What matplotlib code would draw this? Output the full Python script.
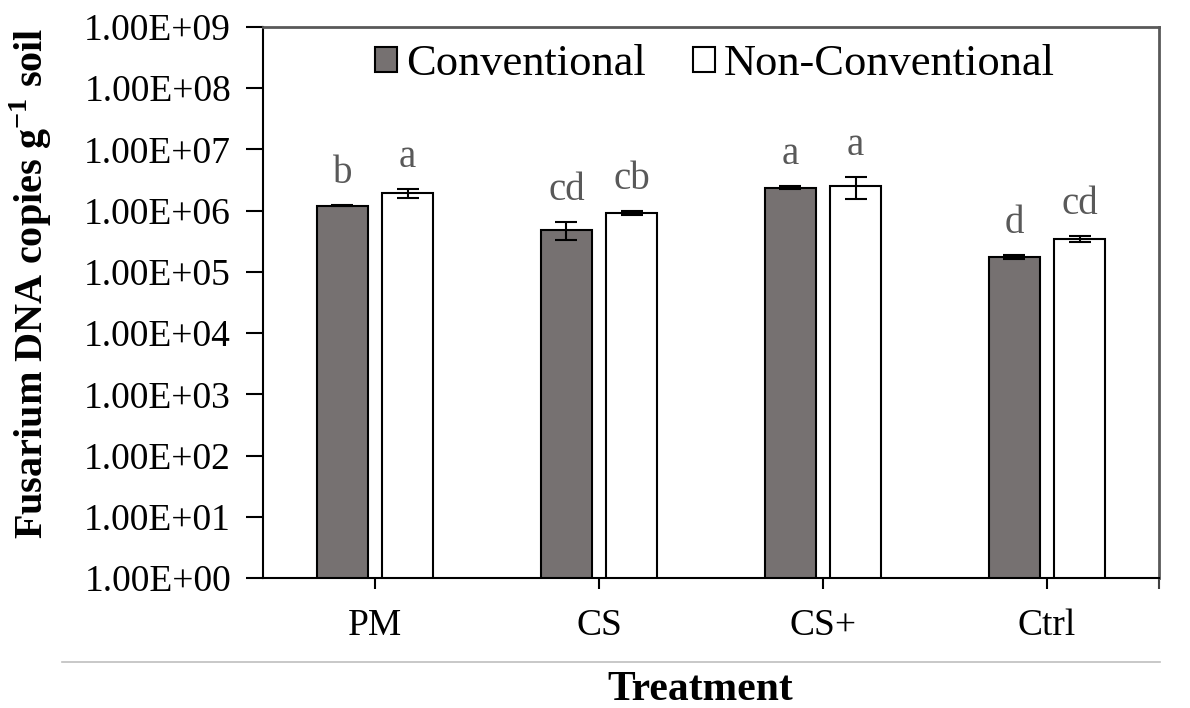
import matplotlib
matplotlib.use("Agg")
import matplotlib.pyplot as plt
import numpy as np
from matplotlib.patches import Patch
from matplotlib.lines import Line2D
import matplotlib.ticker as mticker

categories = ["PM", "CS", "CS+", "Ctrl"]
conv_vals = [1.21e6, 4.9e5, 2.38e6, 1.75e5]
conv_err = [0.03e6, 1.6e5, 0.15e6, 0.14e5]
nonconv_vals = [1.93e6, 9.2e5, 2.57e6, 3.46e5]
nonconv_err = [0.30e6, 0.07e6, 1.0e6, 0.38e5]
conv_letters = ["b", "cd", "a", "d"]
nonconv_letters = ["a", "cb", "a", "cd"]
ytick_vals = [10.0**k for k in range(0, 10)]
ytick_labels = ["1.00E+%02d" % k for k in range(0, 10)]

plt.rcParams['font.family'] = ['Liberation Serif', 'DejaVu Serif']
plt.rcParams['mathtext.fontset'] = 'custom'
plt.rcParams['mathtext.rm'] = 'Liberation Serif'
plt.rcParams['mathtext.bf'] = 'Liberation Serif:bold'

fig = plt.figure(figsize=(11.9, 7.08), dpi=100)
ax = fig.add_axes([263/1190, 1-578/708, (1159-263)/1190, (578-27)/708])

x = np.arange(len(categories))
w = 0.228
gap = 0.0625
off = (w + gap) / 2

ax.bar(x - off, conv_vals, w, color="#767171", edgecolor="black", linewidth=1.5, zorder=2)
ax.bar(x + off, nonconv_vals, w, color="white", edgecolor="black", linewidth=1.5, zorder=2)
ax.errorbar(x - off, conv_vals, yerr=conv_err, fmt="none", ecolor="black",
            elinewidth=1.5, capsize=8, capthick=1.5, zorder=3)
ax.errorbar(x + off, nonconv_vals, yerr=nonconv_err, fmt="none", ecolor="black",
            elinewidth=1.5, capsize=8, capthick=1.5, zorder=3)

for xi, v, e, t in zip(x - off, conv_vals, conv_err, conv_letters):
    ax.annotate(t, (xi, v + e), xytext=(0, 16), textcoords="offset points",
                ha="center", va="baseline", fontsize=28, color="#595959")
for xi, v, e, t in zip(x + off, nonconv_vals, nonconv_err, nonconv_letters):
    ax.annotate(t, (xi, v + e), xytext=(0, 16), textcoords="offset points",
                ha="center", va="baseline", fontsize=28, color="#595959")

ax.set_yscale("log")
ax.set_ylim(1, 1e9)
ax.set_xlim(-0.5, len(categories) - 0.5)
ax.set_yticks(ytick_vals)
ax.set_yticklabels(ytick_labels)
ax.yaxis.set_minor_locator(mticker.NullLocator())
ax.set_xticks(x)
ax.set_xticklabels(categories)
ax.set_xticks([len(categories) - 0.5], minor=True)
ax.tick_params(axis="y", which="major", direction="out", length=12, width=1.5,
               labelsize=27, pad=11, color="black")
ax.tick_params(axis="x", which="major", direction="out", length=8, width=1.5,
               labelsize=27, pad=14, color="black")
ax.tick_params(axis="x", which="minor", direction="out", length=8, width=1.5,
               color="#404040")

for s in ["left", "bottom"]:
    ax.spines[s].set_color("black")
    ax.spines[s].set_linewidth(1.5)
for s in ["top", "right"]:
    ax.spines[s].set_color("#595959")
    ax.spines[s].set_linewidth(2)

fig.text(31/1190, 1-283/708, r"Fusarium DNA copies g$^{\mathbf{-1}}$ soil", rotation=90,
         ha="center", va="center", fontsize=29, fontweight="bold")

handles = [Patch(facecolor="#767171", edgecolor="black", linewidth=1.5, label="Conventional"),
           Patch(facecolor="white", edgecolor="black", linewidth=1.5, label="Non-Conventional")]
ax.legend(handles=handles, loc="center", bbox_to_anchor=(715/1190, 1-64/708),
          bbox_transform=fig.transFigure, ncol=2,
          frameon=False, fontsize=32, handlelength=0.5, handleheight=0.5,
          handletextpad=0.2, columnspacing=1.05, borderaxespad=0.0, borderpad=0.0)

fig.add_artist(Line2D([62/1190, 1160/1190], [1-662/708, 1-662/708], color="#bfbfbf", linewidth=1.2))
fig.text(700/1190, 1-690/708, "Treatment", ha="center", va="center", fontsize=30,
         fontweight="bold")

fig.savefig("out.png", dpi=100)
